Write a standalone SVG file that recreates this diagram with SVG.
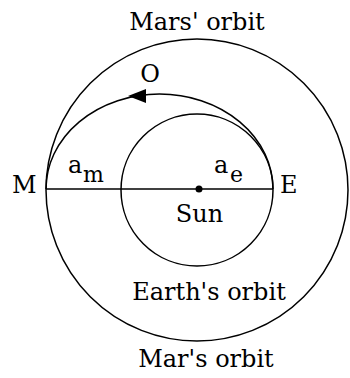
<svg xmlns="http://www.w3.org/2000/svg" width="350" height="378" viewBox="0 0 350 378">
<style>
.o{fill:none;stroke:#000;stroke-width:1.5}
text{font-family:"DejaVu Serif","Liberation Serif",serif;font-size:24px;fill:#000}
.s{font-size:22px}
</style>
<defs>
<marker id="ah" markerWidth="18" markerHeight="14" refX="0" refY="7" orient="auto" markerUnits="userSpaceOnUse">
<path d="M0,7 L18,0 L18,14 Z" fill="#000"/>
</marker>
</defs>
<rect width="350" height="378" fill="#fff"/>
<g id="mars-orbit">
<circle class="o" cx="197" cy="190" r="151"/>
<text x="197" y="30" text-anchor="middle">Mars' orbit</text>
<text x="206" y="367" text-anchor="middle">Mar's orbit</text>
</g>
<g id="earth-orbit">
<circle class="o" cx="197" cy="190" r="76"/>
<text x="209" y="300" text-anchor="middle">Earth's orbit</text>
</g>
<g id="sun">
<circle cx="199" cy="189" r="3.5" fill="#000"/>
<text x="199.5" y="222" text-anchor="middle">Sun</text>
</g>
<g id="connectors">
<line class="o" x1="46" y1="189" x2="273" y2="189"/>
<path class="o" d="M273,189 A113.5,95 0 0 0 46,189"/>
<path d="M128,96 L146,89 L146,103 Z" fill="#000"/>
</g>
<g id="labels">
<text x="150" y="82" text-anchor="middle">O</text>
<text x="12" y="193">M</text>
<text x="280" y="193">E</text>
<text x="68" y="173">a</text><text class="s" x="83" y="182">m</text>
<text x="214" y="173">a</text><text class="s" x="230" y="182">e</text>
</g>
</svg>
